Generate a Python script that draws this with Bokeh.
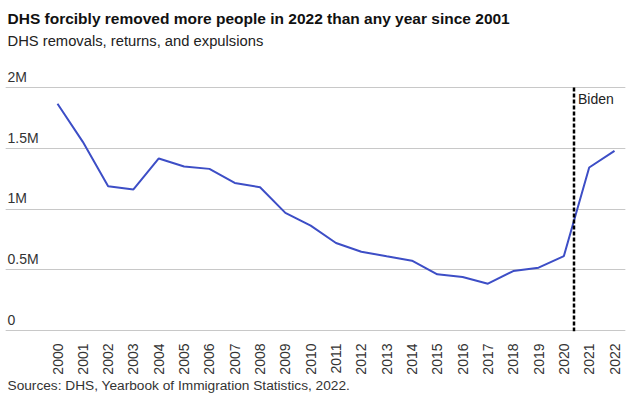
import math
from bokeh.plotting import figure
from bokeh.models import Label, FixedTicker, Grid, ColumnDataSource, Range1d, Title
from bokeh.core.properties import value
from bokeh.embed import file_html
from bokeh.resources import INLINE

# ---- data ----
years = list(range(2000, 2023))
removals_m = [1.87, 1.556, 1.19, 1.163, 1.419, 1.353, 1.333, 1.217, 1.182, 0.970,
              0.865, 0.722, 0.650, 0.612, 0.576, 0.463, 0.441, 0.386, 0.490, 0.518,
              0.614, 1.344, 1.482]
removals = [v * 1e6 for v in removals_m]
y_ticks = [0, 500000, 1000000, 1500000, 2000000]
y_tick_labels = ["0", "0.5M", "1M", "1.5M", "2M"]
biden_x = 2020.4
biden_label = "Biden"
title_text = "DHS forcibly removed more people in 2022 than any year since 2001"
subtitle_text = "DHS removals, returns, and expulsions"
source_text = "Sources: DHS, Yearbook of Immigration Statistics, 2022."

X_START, X_END = 1997.946, 2022.434
Y_START, Y_END = -8247, 2160800
MARKER_TOP = 2020600

FONT = "Liberation Sans"

p = figure(width=628, height=397, output_backend="svg", toolbar_location=None,
           x_range=Range1d(X_START, X_END), y_range=Range1d(Y_START, Y_END),
           y_axis_location=None, min_border_left=5, min_border_right=3,
           min_border_top=68, min_border_bottom=66)
p.outline_line_color = None
p.background_fill_color = "white"
p.border_fill_color = "white"
p.xgrid.visible = False

grid = Grid(dimension=1, ticker=FixedTicker(ticks=y_ticks),
            grid_line_color="#c8c8c8", grid_line_width=1)
p.add_layout(grid)

ax = p.xaxis[0]
ax.ticker = FixedTicker(ticks=years)
ax.major_label_orientation = math.pi / 2
ax.major_tick_line_color = None
ax.minor_tick_line_color = None
ax.axis_line_color = None
ax.major_label_standoff = 6
ax.major_label_text_font = FONT
ax.major_label_text_font_size = "14px"
ax.major_label_text_color = "#333333"

# y tick labels drawn above gridlines
src_y = ColumnDataSource(dict(x=[X_START] * len(y_ticks), y=y_ticks, t=y_tick_labels))
p.text(x="x", y="y", text="t", source=src_y, text_font=value(FONT),
       text_font_size="14px", text_color="#333333", text_baseline="alphabetic",
       text_align="left", x_offset=2, y_offset=-11)

p.line(years, removals, line_color="#3d4ec6", line_width=2)

p.segment(x0=[biden_x], y0=[Y_START], x1=[biden_x], y1=[MARKER_TOP],
          line_color="black", line_width=2.5, line_dash="4 2")
p.add_layout(Label(x=biden_x, y=MARKER_TOP, text=biden_label, x_offset=4, y_offset=-14,
                   text_font=FONT, text_font_size="14px", text_color="#222222",
                   text_baseline="alphabetic"))

# above panels are stacked outward from the frame: spacer, subtitle, title
spacer = Title(text=" ", text_font_size="1px", standoff=15)
sub = Title(text=subtitle_text, text_font=FONT, text_font_size="14.75px",
            text_font_style="normal", text_color="#222222", align="left",
            offset=2, standoff=4)
ttl = Title(text=title_text, text_font=FONT, text_font_size="15.5px",
            text_font_style="bold", text_color="#111111", align="left",
            offset=2, standoff=4)
p.add_layout(spacer, "above")
p.add_layout(sub, "above")
p.add_layout(ttl, "above")

src = Title(text=source_text, text_font=FONT, text_font_size="13.7px",
            text_font_style="normal", text_color="#333333", align="left",
            offset=2, standoff=0, vertical_align="top")
p.add_layout(src, "below")

open("out.html", "w").write(file_html(p, INLINE))
